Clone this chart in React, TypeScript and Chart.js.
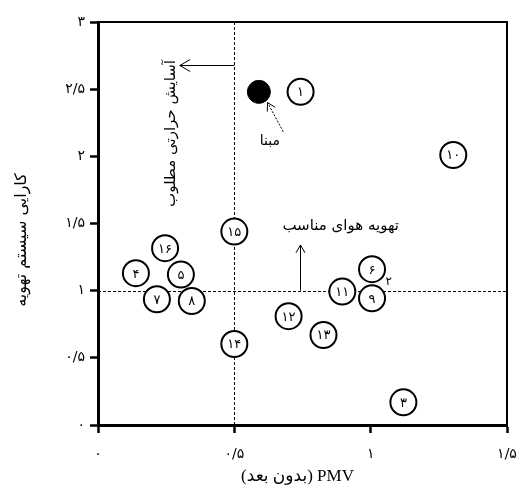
import React, { useEffect, useRef } from 'react';
import { Chart, registerables } from 'chart.js';

Chart.register(...registerables);

// ---- data ----
const pointIds = ['۱', '۳', '۴', '۵', '۶', '۷', '۸', '۹', '۱۰', '۱۱', '۱۲', '۱۳', '۱۴', '۱۵', '۱۶'];
const pmvValues = [0.743, 1.12, 0.139, 0.304, 1.005, 0.216, 0.344, 1.005, 1.303, 0.896, 0.699, 0.827, 0.5, 0.5, 0.246];
const efficiencyValues = [2.48, 0.169, 1.13, 1.12, 1.16, 0.936, 0.923, 0.943, 2.01, 0.993, 0.81, 0.67, 0.603, 1.44, 1.316];

const basePmv = [0.59];
const baseEfficiency = [2.48];
const baseLabel = 'مبنا';

const hiddenPointLabel = '۲';
const hiddenPointPmv = 1.066;
const hiddenPointEfficiency = 1.065;

const xTickLabels = ['۰', '۰/۵', '۱', '۱/۵'];
const yTickLabels = ['۰', '۰/۵', '۱', '۱/۵', '۲', '۲/۵', '۳'];

const xTitle = 'PMV (بدون بعد)';
const yTitle = 'کارایی سیستم تهویه';
const comfortText = 'آسایش حرارتی مطلوب';
const ventText = 'تهویه هوای مناسب';

const comfortLimitPmv = 0.5;
const ventLimitEfficiency = 1;

// annotation anchors (data coordinates)
const comfortArrow = { y: 2.68, x0: 0.5, x1: 0.3 };
const ventArrow = { x: 0.741, y0: 1.0, y1: 1.34 };
const comfortTextPos = { x: 0.267, y: 2.17 };
const ventTextPos = { x: 0.89, y: 1.48 };
const baseTextPos = { x: 0.63, y: 2.11 };
const baseArrow = { x0: 0.679, y0: 2.184, x1: 0.622, y1: 2.4 };

const PERSIAN_FONT = "'DejaVu Sans', sans-serif";

function arrowHead(ctx: CanvasRenderingContext2D, x0: number, y0: number, x1: number, y1: number, len: number) {
  const ang = Math.atan2(y1 - y0, x1 - x0);
  const a = Math.PI / 6;
  ctx.beginPath();
  ctx.moveTo(x1 - len * Math.cos(ang - a), y1 - len * Math.sin(ang - a));
  ctx.lineTo(x1, y1);
  ctx.lineTo(x1 - len * Math.cos(ang + a), y1 - len * Math.sin(ang + a));
  ctx.stroke();
}

const decorPlugin = {
  id: 'decor',
  beforeDatasetsDraw(chart: any) {
    const { ctx, chartArea: ca, scales } = chart;
    const xs = scales.x;
    const ys = scales.y;
    ctx.save();
    ctx.strokeStyle = '#000';
    ctx.lineWidth = 1;
    ctx.setLineDash([3, 2]);
    const vx = Math.round(xs.getPixelForValue(comfortLimitPmv)) + 0.5;
    ctx.beginPath();
    ctx.moveTo(vx, ca.top);
    ctx.lineTo(vx, ca.bottom);
    ctx.stroke();
    const hy = Math.round(ys.getPixelForValue(ventLimitEfficiency)) + 0.5;
    ctx.beginPath();
    ctx.moveTo(ca.left, hy);
    ctx.lineTo(ca.right, hy);
    ctx.stroke();
    ctx.setLineDash([]);

    // comfort arrow
    const ay = Math.round(ys.getPixelForValue(comfortArrow.y)) + 0.5;
    const ax0 = xs.getPixelForValue(comfortArrow.x0);
    const ax1 = xs.getPixelForValue(comfortArrow.x1);
    ctx.beginPath();
    ctx.moveTo(ax0, ay);
    ctx.lineTo(ax1, ay);
    ctx.stroke();
    arrowHead(ctx, ax0, ay, ax1, ay, 12);

    // ventilation arrow
    const bx = Math.round(xs.getPixelForValue(ventArrow.x)) + 0.5;
    const by0 = ys.getPixelForValue(ventArrow.y0);
    const by1 = ys.getPixelForValue(ventArrow.y1);
    ctx.beginPath();
    ctx.moveTo(bx, by0);
    ctx.lineTo(bx, by1);
    ctx.stroke();
    arrowHead(ctx, bx, by0, bx, by1, 9);

    // base dotted arrow
    const cx0 = xs.getPixelForValue(baseArrow.x0);
    const cy0 = ys.getPixelForValue(baseArrow.y0);
    const cx1 = xs.getPixelForValue(baseArrow.x1);
    const cy1 = ys.getPixelForValue(baseArrow.y1);
    ctx.setLineDash([2, 1.5]);
    ctx.beginPath();
    ctx.moveTo(cx0, cy0);
    ctx.lineTo(cx1, cy1);
    ctx.stroke();
    ctx.setLineDash([]);
    arrowHead(ctx, cx0, cy0, cx1, cy1, 9);

    // texts
    ctx.fillStyle = '#000';
    ctx.textAlign = 'center';
    ctx.textBaseline = 'middle';
    ctx.direction = 'rtl';
    ctx.font = `15px ${PERSIAN_FONT}`;
    ctx.fillText(ventText, xs.getPixelForValue(ventTextPos.x), ys.getPixelForValue(ventTextPos.y));
    ctx.font = `14px ${PERSIAN_FONT}`;
    ctx.fillText(baseLabel, xs.getPixelForValue(baseTextPos.x), ys.getPixelForValue(baseTextPos.y));
    ctx.font = `15px ${PERSIAN_FONT}`;
    ctx.save();
    ctx.translate(xs.getPixelForValue(comfortTextPos.x), ys.getPixelForValue(comfortTextPos.y));
    ctx.rotate(-Math.PI / 2);
    ctx.fillText(comfortText, 0, 0);
    ctx.restore();
    ctx.restore();
  },
  afterDatasetsDraw(chart: any) {
    const { ctx, chartArea: ca, scales } = chart;
    const xs = scales.x;
    const ys = scales.y;
    ctx.save();
    ctx.fillStyle = '#000';
    ctx.textAlign = 'center';
    ctx.textBaseline = 'middle';
    ctx.font = `13px ${PERSIAN_FONT}`;
    const meta = chart.getDatasetMeta(0);
    meta.data.forEach((el: any, i: number) => {
      ctx.fillText(pointIds[i], el.x, el.y + 1);
    });
    ctx.font = `12px ${PERSIAN_FONT}`;
    ctx.fillText(hiddenPointLabel, xs.getPixelForValue(hiddenPointPmv), ys.getPixelForValue(hiddenPointEfficiency));

    // frame top and right
    ctx.strokeStyle = '#000';
    ctx.lineWidth = 2;
    ctx.beginPath();
    ctx.moveTo(ca.left, ca.top);
    ctx.lineTo(ca.right, ca.top);
    ctx.lineTo(ca.right, ca.bottom);
    ctx.stroke();

    // axis titles
    ctx.direction = 'rtl';
    ctx.font = `17px 'Liberation Serif', ${PERSIAN_FONT}`;
    ctx.fillText(xTitle, (ca.left + ca.right) / 2 - 5, 477);
    ctx.font = `16px ${PERSIAN_FONT}`;
    ctx.save();
    ctx.translate(22, 240);
    ctx.rotate(-Math.PI / 2);
    ctx.fillText(yTitle, 0, 0);
    ctx.restore();
    ctx.restore();
  },
};

export default function App() {
  const canvasRef = useRef<HTMLCanvasElement | null>(null);

  useEffect(() => {
    if (!canvasRef.current) return;
    const chart = new Chart(canvasRef.current, {
      type: 'scatter',
      data: {
        datasets: [
          {
            label: 'cases',
            data: pmvValues.map((x, i) => ({ x, y: efficiencyValues[i] })),
            pointRadius: 13,
            pointHoverRadius: 13,
            pointBorderWidth: 2,
            pointBorderColor: '#000',
            pointBackgroundColor: '#fff',
          },
          {
            label: baseLabel,
            data: basePmv.map((x, i) => ({ x, y: baseEfficiency[i] })),
            pointRadius: 11.5,
            pointHoverRadius: 11.5,
            pointBorderWidth: 1,
            pointBorderColor: '#000',
            pointBackgroundColor: '#000',
          },
        ],
      },
      options: {
        responsive: false,
        animation: false,
        events: [],
        layout: { padding: { top: 22, right: 10, left: 0, bottom: 0 } },
        plugins: { legend: { display: false }, tooltip: { enabled: false } },
        scales: {
          x: {
            type: 'linear',
            min: 0,
            max: 1.5,
            afterFit: (s: any) => { s.height = 61; s.paddingLeft = 0; s.paddingRight = 0; },
            border: { display: true, color: '#000', width: 3 },
            grid: { drawOnChartArea: false, drawTicks: true, tickLength: 8, tickColor: '#000', tickWidth: 2.5 },
            ticks: {
              stepSize: 0.5,
              color: '#000',
              padding: 13,
              maxRotation: 0,
              font: { family: 'DejaVu Sans', size: 14 },
              callback: (v: any) => xTickLabels[Math.round(Number(v) / 0.5)] ?? '',
            },
          },
          y: {
            type: 'linear',
            min: 0,
            max: 3,
            afterFit: (s: any) => { s.width = 98; s.paddingTop = 0; s.paddingBottom = 0; },
            border: { display: true, color: '#000', width: 3 },
            grid: { drawOnChartArea: false, drawTicks: true, tickLength: 8, tickColor: '#000', tickWidth: 2.5 },
            ticks: {
              stepSize: 0.5,
              color: '#000',
              padding: 5,
              font: { family: 'DejaVu Sans', size: 14 },
              callback: (v: any) => yTickLabels[Math.round(Number(v) / 0.5)] ?? '',
            },
          },
        },
      },
      plugins: [decorPlugin],
    } as any);
    return () => chart.destroy();
  }, []);

  return (
    <div style={{ position: 'absolute', left: 0, top: 0, width: 522, height: 486, background: '#fff' }}>
      <canvas ref={canvasRef} width={522} height={486} style={{ display: 'block' }} />
    </div>
  );
}
